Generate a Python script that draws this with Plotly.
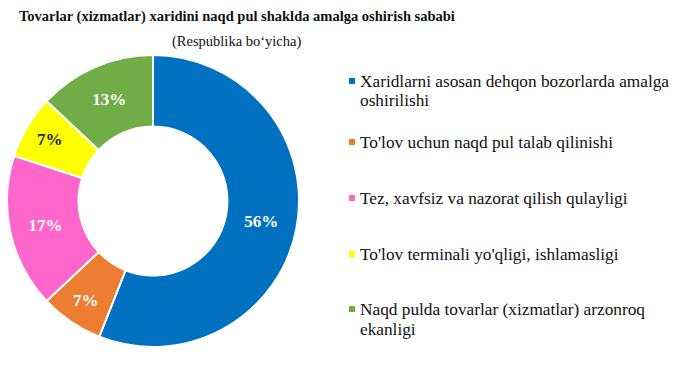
import plotly.graph_objects as go

categories = [
    "Xaridlarni asosan dehqon bozorlarda amalga oshirilishi",
    "To'lov uchun naqd pul talab qilinishi",
    "Tez, xavfsiz va nazorat qilish qulayligi",
    "To'lov terminali yo'qligi, ishlamasligi",
    "Naqd pulda tovarlar (xizmatlar) arzonroq ekanligi",
]
legend_lines = [
    ["Xaridlarni asosan dehqon bozorlarda amalga", "oshirilishi"],
    ["To'lov uchun naqd pul talab qilinishi"],
    ["Tez, xavfsiz va nazorat qilish qulayligi"],
    ["To'lov terminali yo'qligi, ishlamasligi"],
    ["Naqd pulda tovarlar (xizmatlar) arzonroq", "ekanligi"],
]
values = [56, 7, 17, 7, 13]
colors = ["#0070C0", "#ED7D31", "#FF66CC", "#FFFF00", "#70AD47"]
label_colors = ["white", "white", "white", "#222222", "white"]

W, H = 680, 388
FONT = "Liberation Serif"

fig = go.Figure()
fig.add_trace(go.Pie(
    labels=categories,
    values=values,
    hole=0.51,
    sort=False,
    direction="clockwise",
    rotation=0,
    marker=dict(colors=colors, line=dict(color="white", width=2)),
    texttemplate="%{percent:.0%}",
    textposition="inside",
    insidetextorientation="horizontal",
    textfont=dict(family=FONT, size=17, color=label_colors, weight="bold"),
    domain=dict(x=[7 / W, 299 / W], y=[(H - 347) / H, (H - 55) / H]),
    showlegend=False,
))

# manual legend
legend_y = [81, 142, 198, 254, 309]
shapes = []
annotations = []
for lines, col, yy in zip(legend_lines, colors, legend_y):
    shapes.append(dict(type="rect", xref="paper", yref="paper",
                       x0=349 / W, x1=355 / W, y0=(H - yy - 3) / H, y1=(H - yy + 3) / H,
                       fillcolor=col, line=dict(width=0)))
    for i, ln in enumerate(lines):
        annotations.append(dict(xref="paper", yref="paper", x=359 / W, y=(H - yy - 20 * i) / H,
                                xanchor="left", yanchor="middle", align="left", showarrow=False,
                                borderpad=0,
                                text=ln, font=dict(family=FONT, size=17.3, color="#111111")))

annotations.append(dict(xref="paper", yref="paper", x=237 / W, y=(H - 17) / H,
                        xanchor="center", yanchor="middle", showarrow=False,
                        text="<b>Tovarlar (xizmatlar) xaridini naqd pul shaklda amalga oshirish sababi</b>",
                        font=dict(family=FONT, size=14.5, color="#111111")))
annotations.append(dict(xref="paper", yref="paper", x=236 / W, y=(H - 42) / H,
                        xanchor="center", yanchor="middle", showarrow=False,
                        text="(Respublika bo‘yicha)",
                        font=dict(family=FONT, size=14.5, color="#111111")))

fig.update_layout(
    width=W, height=H,
    margin=dict(l=0, r=0, t=0, b=0),
    paper_bgcolor="white", plot_bgcolor="white",
    shapes=shapes, annotations=annotations,
)

fig.write_html("out.html", config={"displayModeBar": False},
               post_script="document.body.style.margin='0';")
